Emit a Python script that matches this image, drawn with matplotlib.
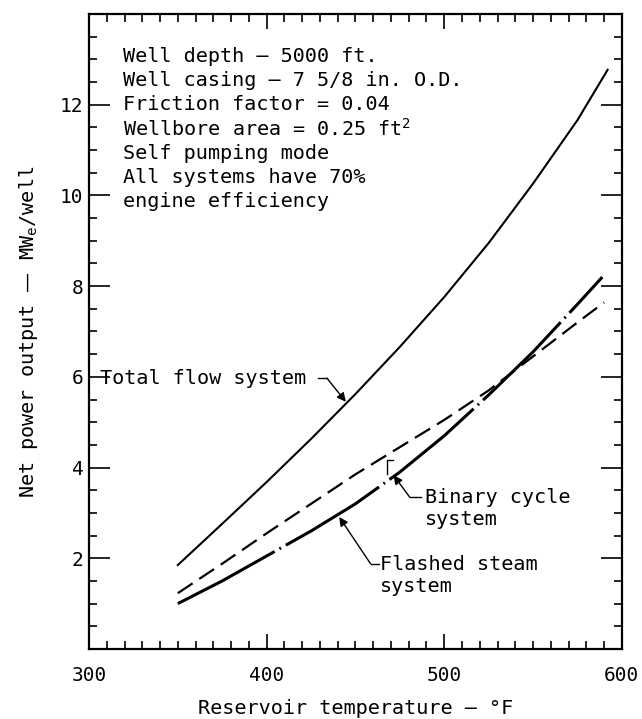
import matplotlib
matplotlib.use("Agg")
import matplotlib.pyplot as plt

# values (reservoir temp in F, power in MWe/well)
total_x = [350, 375, 400, 425, 450, 475, 500, 525, 550, 575, 592]
total_flow = [1.85, 2.76, 3.68, 4.63, 5.62, 6.66, 7.76, 8.95, 10.26, 11.66, 12.77]

binary_x = [350, 375, 400, 425, 450, 475, 500, 525, 550, 575, 590]
binary_cycle = [1.23, 1.88, 2.55, 3.2, 3.85, 4.45, 5.05, 5.7, 6.45, 7.2, 7.64]

flashed_x = [350, 375, 400, 425, 450, 475, 500, 525, 550, 575, 589]
flashed_steam = [1.0, 1.5, 2.05, 2.6, 3.2, 3.9, 4.7, 5.6, 6.55, 7.6, 8.2]

notes = [
    "Well depth \u2014 5000 ft.",
    "Well casing \u2014 7 5/8 in. O.D.",
    "Friction factor = 0.04",
    "Wellbore area = 0.25 ft$^2$",
    "Self pumping mode",
    "All systems have 70%",
    "engine efficiency",
]

plt.rcParams["font.family"] = ["DejaVu Sans Mono"]
plt.rcParams["mathtext.default"] = "regular"

fig = plt.figure(figsize=(6.42, 7.19), dpi=100)
ax = fig.add_axes([0.1386, 0.0974, 0.830, 0.8831])

ax.plot(total_x, total_flow, color="k", lw=1.5)
ax.plot(binary_x, binary_cycle, color="k", lw=1.6, linestyle=(0, (8, 3.6)))
ax.plot(flashed_x, flashed_steam, color="k", lw=2.2,
        linestyle=(0, (36, 1.8, 0.6, 1.8)))

ax.set_xlim(300, 600)
ax.set_ylim(0, 14)
ax.set_xticks([300, 400, 500, 600])
ax.set_xticks(range(300, 601, 10), minor=True)
ax.set_yticks([2, 4, 6, 8, 10, 12])
ax.set_yticks([i * 0.5 for i in range(29)], minor=True)

ax.tick_params(which="both", direction="in", top=True, right=True,
               width=1.2, labelsize=14)
ax.tick_params(axis="y", which="major", length=15, pad=4)
ax.tick_params(axis="y", which="minor", length=6)
ax.tick_params(axis="x", which="major", length=11, pad=12)
ax.tick_params(axis="x", which="minor", length=6)
for sp in ax.spines.values():
    sp.set_linewidth(1.6)

ax.set_xlabel("Reservoir temperature \u2014 \u00b0F", fontsize=14.5, labelpad=10)
ax.set_ylabel("Net power output \u2014 MW$_e$/well", fontsize=14.5, labelpad=14)

for i, line in enumerate(notes):
    ax.text(0.064, 0.933 - i * 0.0381, line, transform=ax.transAxes,
            fontsize=14.5, va="center", ha="left")

arrow = dict(arrowstyle="-|>", color="k", lw=1.0, shrinkA=0, shrinkB=0,
             mutation_scale=13)

# Total flow label
ax.text(306, 5.97, "Total flow system", fontsize=14.5, va="center", ha="left")
ax.plot([429, 434], [5.97, 5.97], color="k", lw=1.0)
ax.annotate("", xy=(444.6, 5.45), xytext=(434, 5.97), arrowprops=arrow)

# Binary cycle label
ax.text(489, 3.09, "Binary cycle\nsystem", fontsize=14.5, va="center",
        ha="left", linespacing=1.2)
ax.plot([487, 480.5], [3.35, 3.35], color="k", lw=1.0)
ax.annotate("", xy=(471.5, 3.83), xytext=(480.5, 3.35), arrowprops=arrow)
ax.plot([471, 467.8, 467.8], [4.17, 4.17, 3.85], color="k", lw=1.0)

# Flashed steam label
ax.text(464, 1.62, "Flashed steam\nsystem", fontsize=14.5, va="center",
        ha="left", linespacing=1.2)
ax.plot([463, 458.5], [1.88, 1.88], color="k", lw=1.0)
ax.annotate("", xy=(440.9, 2.91), xytext=(458.5, 1.88), arrowprops=arrow)

fig.savefig("out.png", dpi=100)
